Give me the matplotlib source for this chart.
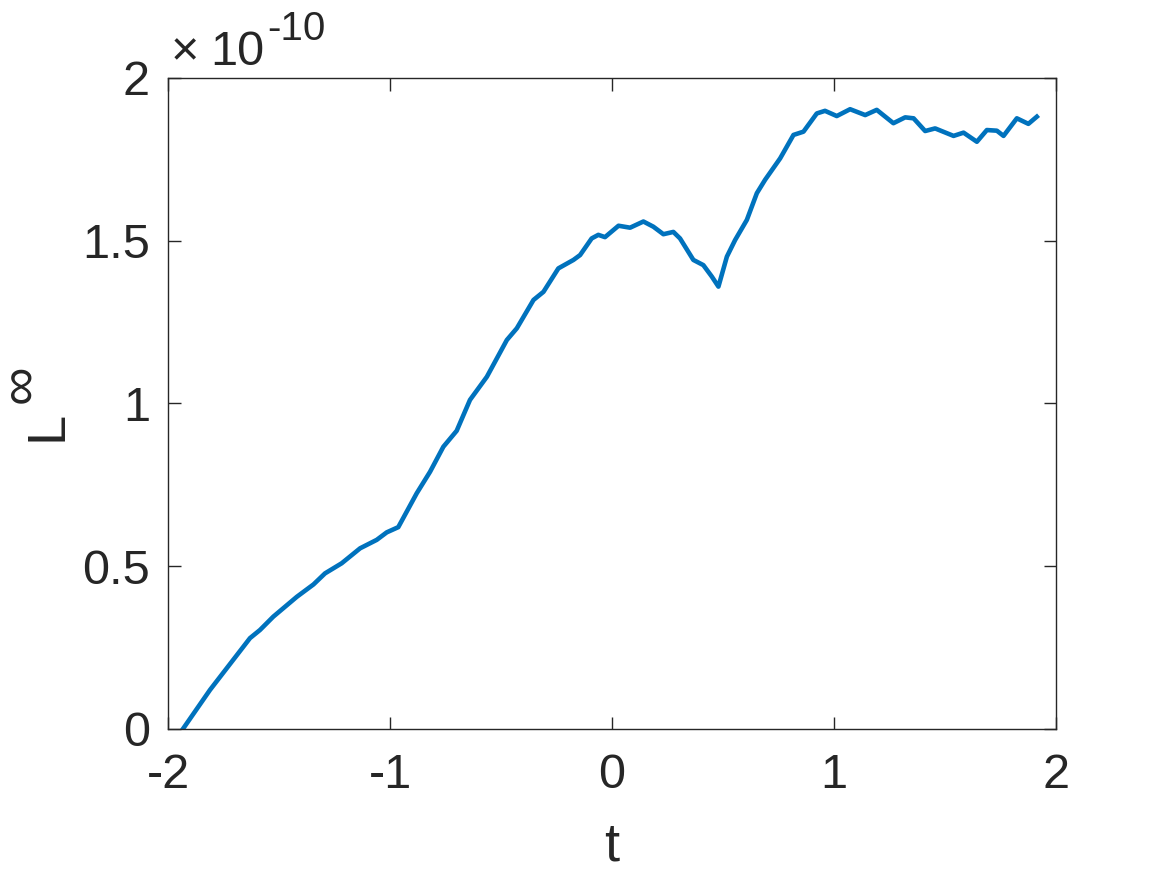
import numpy as np
import matplotlib.pyplot as plt

# curve (y in units of 1e-10)
t = [-1.931, -1.811, -1.631, -1.586, -1.526, -1.420, -1.345, -1.293, -1.218,
     -1.135, -1.060, -1.015, -0.963, -0.880, -0.820, -0.760, -0.700, -0.640,
     -0.564, -0.474, -0.429, -0.354, -0.309, -0.242, -0.174, -0.144, -0.092,
     -0.062, -0.032, 0.029, 0.081, 0.141, 0.186, 0.231, 0.276, 0.306, 0.366,
     0.411, 0.449, 0.479, 0.517, 0.554, 0.607, 0.652, 0.689, 0.757, 0.817,
     0.862, 0.922, 0.959, 1.012, 1.072, 1.140, 1.192, 1.267, 1.320, 1.358,
     1.410, 1.455, 1.538, 1.583, 1.643, 1.688, 1.733, 1.763, 1.823, 1.875,
     1.913]
linf = [0.002, 0.120, 0.279, 0.304, 0.345, 0.406, 0.444, 0.478, 0.509,
        0.555, 0.581, 0.604, 0.620, 0.724, 0.790, 0.867, 0.916, 1.011,
        1.082, 1.195, 1.231, 1.318, 1.343, 1.415, 1.441, 1.456, 1.507,
        1.518, 1.511, 1.546, 1.540, 1.559, 1.543, 1.520, 1.527, 1.507, 1.441,
        1.425, 1.390, 1.359, 1.451, 1.502, 1.564, 1.646, 1.687, 1.753, 1.825,
        1.835, 1.891, 1.899, 1.883, 1.904, 1.886, 1.902, 1.861, 1.879, 1.876,
        1.837, 1.845, 1.822, 1.832, 1.804, 1.840, 1.838, 1.822, 1.876, 1.859,
        1.881]

xticks = [-2, -1, 0, 1, 2]
xtick_labels = ['-2', '-1', '0', '1', '2']
yticks = [0, 0.5, 1, 1.5, 2]
ytick_labels = ['0', '0.5', '1', '1.5', '2']

plt.rcParams['font.family'] = ['Liberation Sans', 'DejaVu Sans']
plt.rcParams['mathtext.fontset'] = 'custom'
plt.rcParams['mathtext.rm'] = 'Liberation Sans'

W, H = 1167, 875
fig = plt.figure(figsize=(W / 100, H / 100), dpi=100)
ax = fig.add_axes([0.144, 0.1669, 0.761, 0.744])

ax.plot(t, linf, color='#0072BD', linewidth=3.3, solid_joinstyle='round')

ax.set_xlim(-2, 2)
ax.set_ylim(0, 2)
ax.set_xticks(xticks)
ax.set_xticklabels(xtick_labels)
ax.set_yticks(yticks)
ax.set_yticklabels(ytick_labels)

fs = 35
dark = '#262626'
ax.tick_params(direction='in', length=9, width=1, top=True, right=True,
               labelsize=fs, colors=dark)
ax.tick_params(axis='x', pad=17)
ax.tick_params(axis='y', pad=13)
for s in ax.spines.values():
    s.set_linewidth(1)
    s.set_color(dark)

ax.set_xlabel('t', fontsize=39, color=dark, labelpad=17)

# y label: L with a large infinity superscript
fig.text(61 / W, 1 - 441 / H, 'L', fontsize=39, color=dark, rotation=90,
         rotation_mode='anchor', ha='left', va='baseline')
fig.text(23 / W, 1 - 387 / H, '$\\mathrm{\u221e}$', fontsize=39, color=dark,
         rotation=90, rotation_mode='anchor', ha='center', va='center')

# exponent label
fig.text(171 / W, 1 - 65 / H, '\u00d7', fontsize=fs, color=dark,
         ha='left', va='baseline')
fig.text(210 / W, 1 - 65 / H, '10', fontsize=fs, color=dark,
         ha='left', va='baseline')
fig.text(267 / W, 1 - 40 / H, '-10', fontsize=29, color=dark,
         ha='left', va='baseline')

plt.savefig('out.png', dpi=100)
